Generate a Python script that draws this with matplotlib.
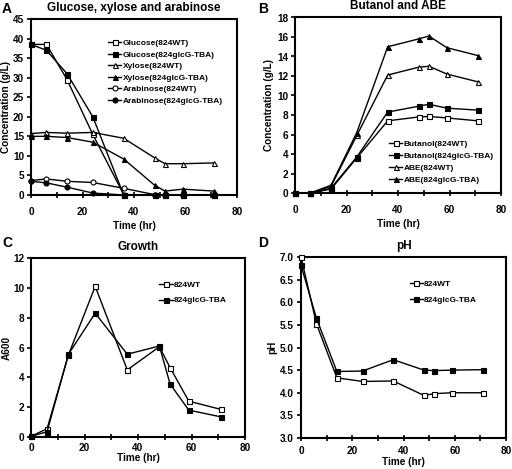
import matplotlib
matplotlib.use("Agg")
import matplotlib.pyplot as plt
from matplotlib.ticker import MultipleLocator

plt.rcParams['font.family'] = ['Liberation Sans', 'DejaVu Sans']
plt.rcParams['font.weight'] = 'bold'

time = [0, 6, 14, 24, 36, 48, 52, 59, 71]

glucose_wt = [38.5, 38.5, 29.5, 15.5, 0.1, 0.0, 0.0, 0.0, 0.0]
glucose_tba = [38.5, 37.0, 31.0, 20.0, 0.0, 0.0, 0.0, 0.0, 0.0]
xylose_wt = [15.7, 16.0, 15.8, 16.0, 14.5, 9.5, 8.0, 8.0, 8.2]
xylose_tba = [15.0, 15.0, 14.7, 13.5, 9.2, 2.5, 1.0, 1.5, 1.0]
arabinose_wt = [3.7, 4.1, 3.5, 3.2, 1.7, 0.1, 0.0, 0.0, 0.0]
arabinose_tba = [3.5, 3.1, 2.0, 0.5, 0.0, 0.0, 0.0, 0.0, 0.0]

butanol_wt = [0.0, 0.0, 0.4, 3.6, 7.4, 7.8, 7.85, 7.7, 7.4]
butanol_tba = [0.0, 0.0, 0.5, 3.7, 8.3, 8.9, 9.1, 8.7, 8.5]
abe_wt = [0.0, 0.0, 0.7, 5.9, 12.1, 12.9, 13.0, 12.2, 11.4]
abe_tba = [0.0, 0.0, 0.8, 6.2, 15.0, 15.8, 16.1, 14.9, 14.1]

growth_wt = [0.05, 0.55, 5.5, 10.1, 4.5, 6.05, 4.65, 2.4, 1.85]
growth_tba = [0.05, 0.35, 5.55, 8.3, 5.55, 6.1, 3.55, 1.8, 1.35]

ph_wt = [7.0, 5.53, 4.33, 4.25, 4.26, 3.94, 3.98, 4.0, 4.0]
ph_tba = [6.82, 5.65, 4.47, 4.48, 4.73, 4.5, 4.49, 4.5, 4.51]

fig = plt.figure(figsize=(5.12, 4.69), dpi=100)
W, H = 512, 469

def add_ax(l, t, r, b):
    return fig.add_axes([l / W, 1 - b / H, (r - l) / W, (b - t) / H])

axA = add_ax(31, 19, 237, 195)
axB = add_ax(295, 17.5, 501, 193)
axC = add_ax(31, 258, 245, 437)
axD = add_ax(301, 257, 506, 438)

ms = 3.6
lw = 1.0
FS = 7.2

def style(ax, ylim, ymaj, xpad, xlabpad, ylabpad, ylabel, title, yfmt=None):
    ax.set_xlim(0, 80)
    ax.set_ylim(*ylim)
    ax.xaxis.set_major_locator(MultipleLocator(20))
    ax.xaxis.set_minor_locator(MultipleLocator(10))
    ax.yaxis.set_major_locator(MultipleLocator(ymaj))
    ax.tick_params(axis='x', which='both', direction='inout', length=5, width=1.2, labelsize=FS, pad=xpad)
    ax.tick_params(axis='y', which='both', direction='out', length=3, width=1.2, labelsize=FS, pad=2)
    for s in ax.spines.values():
        s.set_linewidth(1.5)
    for lab in ax.get_xticklabels() + ax.get_yticklabels():
        lab.set_fontweight('bold')
    if yfmt:
        ax.yaxis.set_major_formatter(plt.FormatStrFormatter(yfmt))
    ax.set_xlabel('Time (hr)', fontsize=FS, fontweight='bold', labelpad=xlabpad)
    ax.set_ylabel(ylabel, fontsize=FS, fontweight='bold', labelpad=ylabpad)
    ax.set_title(title, fontsize=8.5, fontweight='bold', pad=6)

def plot(ax, y, marker, filled, label):
    ax.plot(time, y, color='black', lw=lw, marker=marker, ms=ms,
            mfc='black' if filled else 'white', mec='black', mew=0.8,
            label=label, clip_on=False, zorder=3)

def legend(ax, x, y, spacing):
    ax.legend(loc='upper left', bbox_to_anchor=(x, y), frameon=False, fontsize=6.0,
              handlelength=1.6, handletextpad=0.15, labelspacing=spacing, borderaxespad=0,
              borderpad=0)

# A
plot(axA, glucose_wt, 's', False, 'Glucose(824WT)')
plot(axA, glucose_tba, 's', True, 'Glucose(824glcG-TBA)')
plot(axA, xylose_wt, '^', False, 'Xylose(824WT)')
plot(axA, xylose_tba, '^', True, 'Xylose(824glcG-TBA)')
plot(axA, arabinose_wt, 'o', False, 'Arabinose(824WT)')
plot(axA, arabinose_tba, 'o', True, 'Arabinose(824glcG-TBA)')
style(axA, (0, 45), 5, 6, 3, 1, 'Concentration (g/L)', 'Glucose, xylose and arabinose')
legend(axA, 0.374, 0.885, 0.45)

# B
plot(axB, butanol_wt, 's', False, 'Butanol(824WT)')
plot(axB, butanol_tba, 's', True, 'Butanol(824glcG-TBA)')
plot(axB, abe_wt, '^', False, 'ABE(824WT)')
plot(axB, abe_tba, '^', True, 'ABE(824glcG-TBA)')
style(axB, (0, 18), 2, 6, 3, 2, 'Concentration (g/L)', 'Butanol and ABE')
legend(axB, 0.456, 0.30, 0.5)

# C
plot(axC, growth_wt, 's', False, '824WT')
plot(axC, growth_tba, 's', True, '824glcG-TBA')
style(axC, (0, 12), 2, 1.5, 0, 1, 'A600', 'Growth')
legend(axC, 0.60, 0.87, 0.9)

# D
plot(axD, ph_wt, 's', False, '824WT')
plot(axD, ph_tba, 's', True, '824glcG-TBA')
style(axD, (3.0, 7.0), 0.5, 3, 1, 2, 'pH', 'pH', '%.1f')
legend(axD, 0.53, 0.87, 0.9)

for letter, x, y in [('A', 2, 9), ('B', 258, 9), ('C', 2, 243), ('D', 258, 243)]:
    fig.text(x / W, 1 - y / H, letter, fontsize=10, fontweight='bold', va='center', ha='left')

fig.savefig('out.png', dpi=100)
